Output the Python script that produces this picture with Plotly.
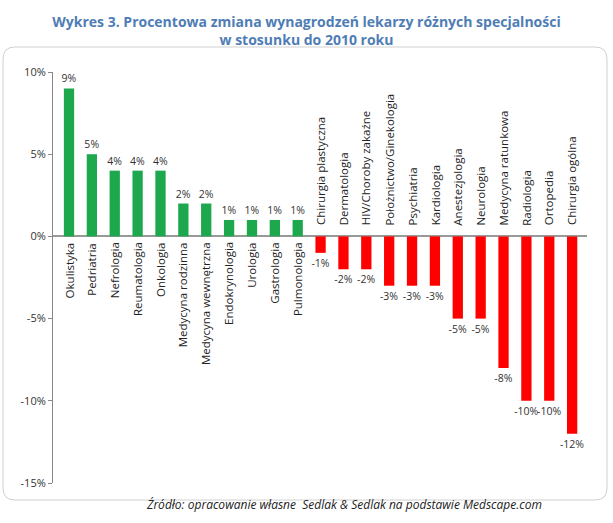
import plotly.graph_objects as go

# Percentage change of doctors' salaries vs 2010
specjalnosci = ["Okulistyka", "Pedriatria", "Nefrologia", "Reumatologia", "Onkologia",
                "Medycyna rodzinna", "Medycyna wewnętrzna", "Endokrynologia", "Urologia",
                "Gastrologia", "Pulmonologia", "Chirurgia plastyczna", "Dermatologia",
                "HIV/Choroby zakaźne", "Położnictwo/Ginekologia", "Psychiatria", "Kardiologia",
                "Anestezjologia", "Neurologia", "Medycyna ratunkowa", "Radiologia",
                "Ortopedia", "Chirurgia ogólna"]
zmiana = [9, 5, 4, 4, 4, 2, 2, 1, 1, 1, 1, -1, -2, -2, -3, -3, -3, -5, -5, -8, -10, -10, -12]
y_ticks = [10, 5, 0, -5, -10, -15]
y_labels = ["10%", "5%", "0%", "-5%", "-10%", "-15%"]

W, H = 613, 523
L, R, T, B = 53, 26, 72, 40

kolory = ["#1DA84E" if v > 0 else "#FF0000" for v in zmiana]
etykiety = [f"{v}%" for v in zmiana]

fig = go.Figure()
fig.add_trace(go.Bar(
    x=specjalnosci, y=zmiana,
    marker=dict(color=kolory, line=dict(width=0)),
    text=etykiety, textposition="outside", cliponaxis=False, constraintext="none",
    textfont=dict(family="Open Sans", size=10.5, color="#333333"),
    width=0.45,
))

# category names sit next to the zero line, opposite side of the bar
for name, v in zip(specjalnosci, zmiana):
    fig.add_annotation(
        x=name, y=0, text=name, textangle=-90, showarrow=False,
        yanchor="top" if v > 0 else "bottom",
        yshift=-4 if v > 0 else 9,
        font=dict(family="Open Sans", size=11.5, color="#222222"),
    )


def px(x, y):
    # pixel position -> paper coordinates
    return (x - L) / (W - L - R), (H - B - y) / (H - T - B)


def ramka(x0, y0, x1, y1, r):
    def p(x, y):
        a, b = px(x, y)
        return f"{a:.4f},{b:.4f}"
    return (f"M {p(x0 + r, y0)} L {p(x1 - r, y0)} Q {p(x1, y0)} {p(x1, y0 + r)} "
            f"L {p(x1, y1 - r)} Q {p(x1, y1)} {p(x1 - r, y1)} "
            f"L {p(x0 + r, y1)} Q {p(x0, y1)} {p(x0, y1 - r)} "
            f"L {p(x0, y0 + r)} Q {p(x0, y0)} {p(x0 + r, y0)} Z")


fig.add_shape(type="path", xref="paper", yref="paper", path=ramka(3, 47, 607, 500, 12),
              line=dict(color="#D0D0D0", width=1), layer="below")

fig.add_annotation(
    xref="paper", yref="paper", x=px(344, 0)[0], y=px(0, 515)[1],
    text="<i>Źródło: opracowanie własne  Sedlak & Sedlak na podstawie Medscape.com</i>",
    showarrow=False, font=dict(family="Open Sans", size=12, color="#222222"),
)

fig.update_layout(
    width=W, height=H,
    margin=dict(l=L, r=R, t=T, b=B),
    paper_bgcolor="white", plot_bgcolor="white",
    showlegend=False,
    title=dict(
        text="<b>Wykres 3. Procentowa zmiana wynagrodzeń lekarzy różnych specjalności<br>w stosunku do 2010 roku</b>",
        x=0.5, xanchor="center", y=1 - 27 / H, yanchor="middle",
        font=dict(family="Open Sans", size=14, color="#4F7DB5"),
    ),
    xaxis=dict(
        type="category", range=[-0.7, 22.65], showticklabels=False,
        showgrid=False, showline=False, ticks="",
    ),
    yaxis=dict(
        range=[-15, 10], tickvals=y_ticks, ticktext=y_labels,
        showgrid=False, showline=True, linecolor="#888888", linewidth=1,
        ticks="outside", ticklen=4, tickcolor="#888888",
        zeroline=True, zerolinecolor="#999999", zerolinewidth=1.5,
        tickfont=dict(family="Open Sans", size=11, color="#333333"),
    ),
)

fig.write_html("out.html", config={"displayModeBar": False},
               post_script="document.body.style.margin = '0px';")
